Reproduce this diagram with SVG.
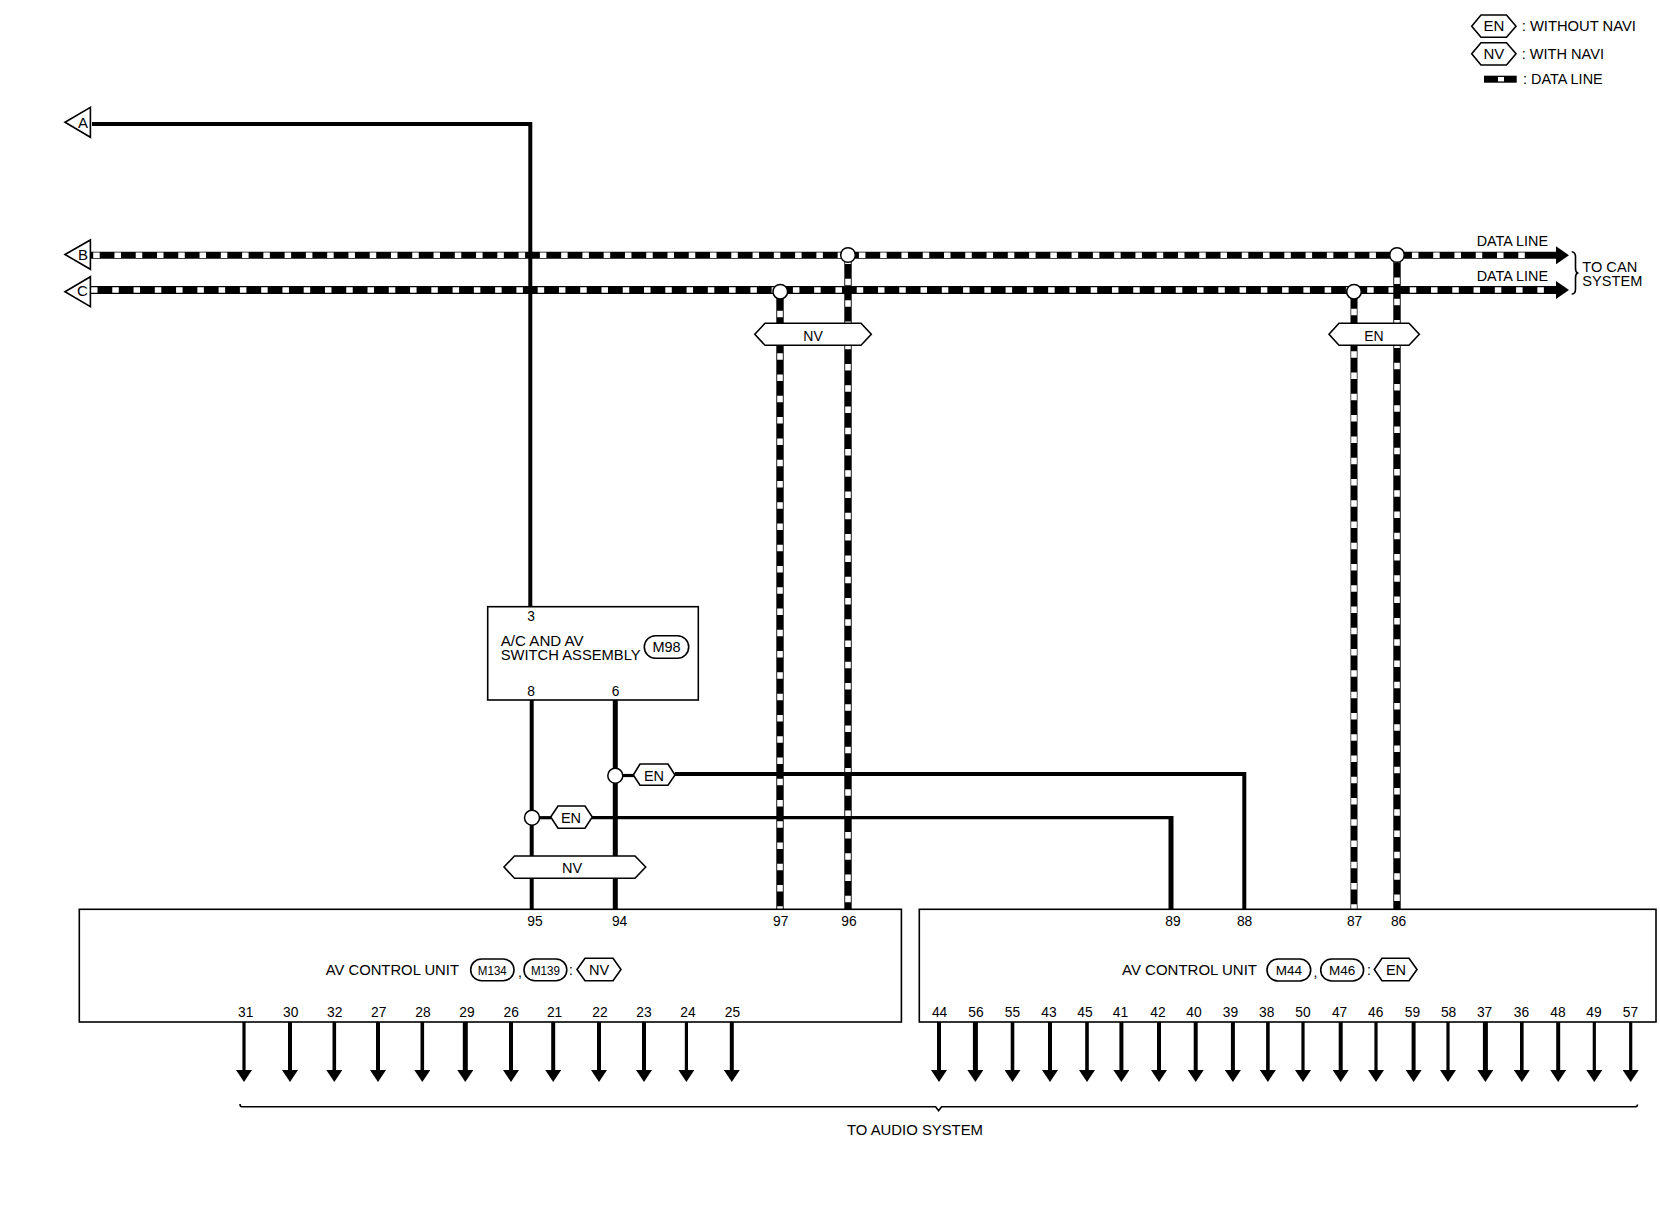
<svg xmlns="http://www.w3.org/2000/svg" width="1660" height="1216" viewBox="0 0 1660 1216">
<style>
text{font-family:"Liberation Sans",Arial,sans-serif;font-size:14px;fill:#000}
.c{text-anchor:middle}
.n{font-size:13.8px;text-anchor:middle}
.t{font-size:15px}
.s{fill:#fff;stroke:#000;stroke-width:1.6}
.w{fill:none;stroke:#000}
.w3{stroke-width:3.2}.w35{stroke-width:3.6}.w4{stroke-width:4}.w5{stroke-width:5}
.db{fill:none;stroke:#000}
.dw{fill:none;stroke:#fff;stroke-width:5.6;stroke-dasharray:6.5 14.77}
.a{marker-end:url(#ah)}
.j{fill:#fff;stroke:#000;stroke-width:1.5}
.br{fill:none;stroke:#000;stroke-width:1.6}
</style>
<defs>
<marker id="ah" markerUnits="userSpaceOnUse" viewBox="0 -8 12 16" refX="0" refY="0" markerWidth="12" markerHeight="16" orient="auto"><path d="M0,-8L12,0L0,8Z" fill="#000"/></marker>
<marker id="dh" markerUnits="userSpaceOnUse" viewBox="0 -9 13 18" refX="0" refY="0" markerWidth="13" markerHeight="18" orient="auto"><path d="M0,-9L13,0L0,9Z" fill="#000"/></marker>
</defs>
<rect width="1660" height="1216" fill="#fff"/>
<g id="connectors">
<path class="db" stroke-width="7" d="M91,255.3H1556" style="marker-end:url(#dh)"/>
<path class="db" stroke-width="8" d="M91,290H1556" style="marker-end:url(#dh)"/>
<path class="dw" d="M93.2,255.3H1530"/>
<path class="dw" d="M91,290H1550"/>
<path class="db" stroke-width="7.4" d="M780,292V909"/>
<path class="dw" d="M780,289.5V909"/>
<path class="db" stroke-width="7.4" d="M848,255V909"/>
<path class="dw" d="M848,257.6V909"/>
<path class="db" stroke-width="7" d="M1354,292V909"/>
<path class="dw" d="M1354,287.5V909"/>
<path class="db" stroke-width="7.4" d="M1397,255V909"/>
<path class="dw" d="M1397,256.3V909"/>
<path class="w w4" d="M92,124H530.3V607"/>
<path class="w w4" d="M531.7,700V909"/>
<path class="w w5" d="M615.3,700V909"/>
<path class="w w3" d="M622,775.5H634"/>
<path class="w w4" d="M675,774H1244.3V909"/>
<path class="w w3" d="M538,817.7H551"/>
<path class="w w3" d="M592,817.7H1171"/>
<path class="w w5" d="M1171,816V909"/>
<g id="audio-arrows">
<path class="w w3 a" d="M244,1022V1070"/>
<path class="w w4 a" d="M290,1022V1070"/>
<path class="w w35 a" d="M334.3,1022V1070"/>
<path class="w w4 a" d="M378,1022V1070"/>
<path class="w w35 a" d="M422.3,1022V1070"/>
<path class="w w5 a" d="M465.3,1022V1070"/>
<path class="w w4 a" d="M511,1022V1070"/>
<path class="w w4 a" d="M553.2,1022V1070"/>
<path class="w w4 a" d="M599,1022V1070"/>
<path class="w w4 a" d="M644,1022V1070"/>
<path class="w w3 a" d="M686.4,1022V1070"/>
<path class="w w4 a" d="M731.8,1022V1070"/>
<path class="w w4 a" d="M939,1022V1070"/>
<path class="w w5 a" d="M975.4,1022V1070"/>
<path class="w w35 a" d="M1012.5,1022V1070"/>
<path class="w w4 a" d="M1050,1022V1070"/>
<path class="w w35 a" d="M1087,1022V1070"/>
<path class="w w4 a" d="M1121.4,1022V1070"/>
<path class="w w4 a" d="M1159,1022V1070"/>
<path class="w w4 a" d="M1195.7,1022V1070"/>
<path class="w w4 a" d="M1232.9,1022V1070"/>
<path class="w w35 a" d="M1267.9,1022V1070"/>
<path class="w w3 a" d="M1303,1022V1070"/>
<path class="w w4 a" d="M1340.7,1022V1070"/>
<path class="w w3 a" d="M1376,1022V1070"/>
<path class="w w4 a" d="M1413.6,1022V1070"/>
<path class="w w3 a" d="M1448,1022V1070"/>
<path class="w w5 a" d="M1485.4,1022V1070"/>
<path class="w w35 a" d="M1521.8,1022V1070"/>
<path class="w w4 a" d="M1558.2,1022V1070"/>
<path class="w w3 a" d="M1594.3,1022V1070"/>
<path class="w w3 a" d="M1630.7,1022V1070"/>
</g>
<circle class="j" cx="848" cy="255" r="7.3"/>
<circle class="j" cx="1397" cy="255" r="7.3"/>
<circle class="j" cx="780.3" cy="291.7" r="7.3"/>
<circle class="j" cx="1354" cy="291.7" r="7.3"/>
<circle class="j" cx="615.3" cy="775.7" r="7.5"/>
<circle class="j" cx="532" cy="817.7" r="7.5"/>
</g>
<g id="legend">
<g id="legend-en"><path class="s" d="M1471.7,26.2L1481,15H1506.5L1516,26.2L1506.5,37.3H1481Z"/><text class="c" x="1493.8" y="31.3" style="font-size:15px">EN</text><text x="1521.7" y="31" class="t" textLength="114.3" lengthAdjust="spacingAndGlyphs">: WITHOUT NAVI</text></g>
<g id="legend-nv"><path class="s" d="M1471.7,53.8L1481,42.7H1506.5L1516,53.8L1506.5,65H1481Z"/><text class="c" x="1493.8" y="59" style="font-size:15px">NV</text><text x="1521.7" y="58.7" class="t" textLength="82.3" lengthAdjust="spacingAndGlyphs">: WITH NAVI</text></g>
<g id="legend-data"><rect x="1484" y="75.7" width="32.7" height="7" fill="#000"/><rect x="1498" y="77" width="6" height="4.4" fill="#fff"/><text x="1523" y="84" class="t" textLength="79.7" lengthAdjust="spacingAndGlyphs">: DATA LINE</text></g>
</g>
<g id="terminal-A"><path class="s" d="M65,122.3L90.4,107.3V137.3Z"/><text class="c" x="83" y="127.7" style="font-size:15px">A</text></g>
<g id="terminal-B"><path class="s" d="M65,254.5L90.4,240V269.3Z"/><text class="c" x="83" y="260" style="font-size:15px">B</text></g>
<g id="terminal-C"><path class="s" d="M65,291.7L90.4,276.7V306.7Z"/><text class="c" x="82.5" y="296.3" style="font-size:15px">C</text></g>
<g id="can-labels">
<text x="1476.7" y="246" class="t" textLength="71.3" lengthAdjust="spacingAndGlyphs">DATA LINE</text>
<text x="1476.7" y="281" class="t" textLength="71.3" lengthAdjust="spacingAndGlyphs">DATA LINE</text>
<path class="br" d="M1571.7,251.7Q1575.5,252 1575.5,257V268Q1575.5,272 1577.5,273Q1575.5,274 1575.5,278V289Q1575.5,294 1571.7,294"/>
<text style="font-size:14.6px"><tspan x="1582.3" y="272">TO CAN</tspan><tspan x="1582.3" y="285.5">SYSTEM</tspan></text>
</g>
<g id="hex-nv-top"><path class="s" d="M754.8,334.3L765,323.3H861L871.3,334.3L861,345.3H765Z"/><text class="c" x="813" y="340.7">NV</text></g>
<g id="hex-en-top"><path class="s" d="M1329,334.3L1339,323.3H1409L1419.3,334.3L1409,345.3H1339Z"/><text class="c" x="1374" y="340.7">EN</text></g>
<g id="switch-assembly">
<rect class="s" x="487.7" y="606.7" width="210.6" height="93.3"/>
<text class="n" x="531" y="621">3</text>
<text x="500.7" y="645.5" class="t" textLength="83" lengthAdjust="spacingAndGlyphs">A/C AND AV</text>
<text x="500.7" y="660" class="t" textLength="140" lengthAdjust="spacingAndGlyphs">SWITCH ASSEMBLY</text>
<rect class="s" x="644.3" y="635.7" width="44.4" height="22.6" rx="11.3"/>
<text class="c" x="666.5" y="652.3" style="font-size:14.5px">M98</text>
<text class="n" x="531" y="696">8</text>
<text class="n" x="615.7" y="696">6</text>
</g>
<g id="hex-en-1"><path class="s" d="M633.3,775L640,764H668L675,775L668,785.3H640Z"/><text class="c" x="654" y="780.7" style="font-size:14.5px">EN</text></g>
<g id="hex-en-2"><path class="s" d="M550.7,817L558,806H585L592.3,817L585,828.3H558Z"/><text class="c" x="571" y="822.7" style="font-size:14.5px">EN</text></g>
<g id="hex-nv-bottom"><path class="s" d="M504,867L514.5,856H635L645.7,867L635,878.3H514.5Z"/><text class="c" x="572" y="872.7" style="font-size:14.5px">NV</text></g>
<g id="av-unit-nv">
<rect class="s" x="79.3" y="909.3" width="822.1" height="112.7"/>
<text class="n" x="535" y="926">95</text><text class="n" x="619.6" y="926">94</text><text class="n" x="780.7" y="926">97</text><text class="n" x="849" y="926">96</text>
<text x="325.7" y="974.7" class="t" textLength="133.3" lengthAdjust="spacingAndGlyphs">AV CONTROL UNIT</text>
<rect class="s" x="470.7" y="959" width="43.3" height="21.7" rx="10.8"/><text class="c" x="492.3" y="975" style="font-size:12.5px" textLength="29" lengthAdjust="spacingAndGlyphs">M134</text>
<text x="518" y="977">,</text>
<rect class="s" x="524" y="959" width="42.8" height="21.7" rx="10.8"/><text class="c" x="545.4" y="975" style="font-size:12.5px" textLength="29" lengthAdjust="spacingAndGlyphs">M139</text>
<text x="569" y="975">:</text>
<path class="s" d="M577,969.5L585,958.3H613L621,969.5L613,980.7H585Z"/><text class="c" x="599" y="975" style="font-size:14.5px">NV</text>
<text class="n" x="245.7" y="1016.5">31</text><text class="n" x="290.7" y="1016.5">30</text><text class="n" x="334.7" y="1016.5">32</text><text class="n" x="378.7" y="1016.5">27</text><text class="n" x="423" y="1016.5">28</text><text class="n" x="467" y="1016.5">29</text><text class="n" x="511.3" y="1016.5">26</text><text class="n" x="554.6" y="1016.5">21</text><text class="n" x="600" y="1016.5">22</text><text class="n" x="644" y="1016.5">23</text><text class="n" x="688" y="1016.5">24</text><text class="n" x="732.5" y="1016.5">25</text>
</g>
<g id="av-unit-en">
<rect class="s" x="919.3" y="909.3" width="736.7" height="112.7"/>
<text class="n" x="1173" y="926">89</text><text class="n" x="1244.6" y="926">88</text><text class="n" x="1354.6" y="926">87</text><text class="n" x="1398.6" y="926">86</text>
<text x="1122" y="974.7" class="t" textLength="135" lengthAdjust="spacingAndGlyphs">AV CONTROL UNIT</text>
<rect class="s" x="1267" y="959" width="43.7" height="22" rx="11"/><text class="c" x="1288.8" y="975.2" style="font-size:13.5px">M44</text>
<text x="1313.5" y="977">,</text>
<rect class="s" x="1320.7" y="959" width="42.9" height="22" rx="11"/><text class="c" x="1342.2" y="975.2" style="font-size:13.5px">M46</text>
<text x="1367" y="975">:</text>
<path class="s" d="M1374.3,969.5L1382,958.3H1409L1417,969.5L1409,980.7H1382Z"/><text class="c" x="1396" y="975" style="font-size:14.5px">EN</text>
<text class="n" x="939.6" y="1016.5">44</text><text class="n" x="976" y="1016.5">56</text><text class="n" x="1012.5" y="1016.5">55</text><text class="n" x="1049" y="1016.5">43</text><text class="n" x="1085" y="1016.5">45</text><text class="n" x="1120.4" y="1016.5">41</text><text class="n" x="1157.9" y="1016.5">42</text><text class="n" x="1194" y="1016.5">40</text><text class="n" x="1230.4" y="1016.5">39</text><text class="n" x="1266.8" y="1016.5">38</text><text class="n" x="1303" y="1016.5">50</text><text class="n" x="1339.6" y="1016.5">47</text><text class="n" x="1375.7" y="1016.5">46</text><text class="n" x="1412.5" y="1016.5">59</text><text class="n" x="1448.6" y="1016.5">58</text><text class="n" x="1484.6" y="1016.5">37</text><text class="n" x="1521.4" y="1016.5">36</text><text class="n" x="1557.9" y="1016.5">48</text><text class="n" x="1594" y="1016.5">49</text><text class="n" x="1630.4" y="1016.5">57</text>
</g>
<g id="audio-label">
<path class="br" d="M240,1104Q240,1106.7 242,1106.7H935.6L938.6,1110.7L941.6,1106.7H1635.5Q1637.5,1106.7 1637.5,1104.5"/>
<text x="847" y="1135" class="t" textLength="136" lengthAdjust="spacingAndGlyphs">TO AUDIO SYSTEM</text>
</g>
</svg>
